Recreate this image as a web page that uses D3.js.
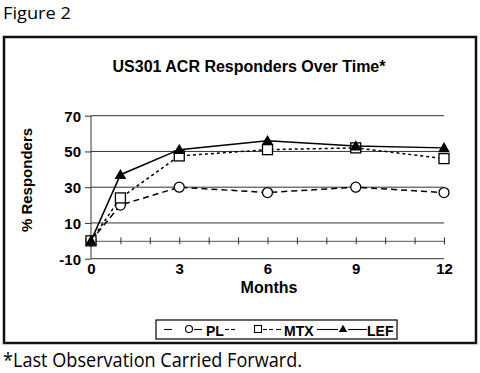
<!DOCTYPE html>
<html><head><meta charset="utf-8">
<script src="https://cdn.jsdelivr.net/npm/d3@7"></script>
<style>body{margin:0;background:#fff;}svg{display:block;}</style>
</head><body>
<svg id="c" width="480" height="373"></svg>
<script>
const months = [0, 1, 3, 6, 9, 12];
const plValues = [0, 20, 30, 27, 30, 27];
const mtxValues = [0, 24, 47.5, 51, 52, 46];
const lefValues = [0, 37, 51, 56, 53, 52];
const yTicks = [-10, 10, 30, 50, 70];
const xTickLabels = [0, 3, 6, 9, 12];
const minorTicks = d3.range(0, 13);
const seriesNames = ["PL", "MTX", "LEF"];

const svg = d3.select("#c");
const x = d3.scaleLinear().domain([0, 12]).range([91, 444]);
const y = d3.scaleLinear().domain([-10, 70]).range([258.7, 115.7]);

svg.append("text").attr("x", 3).attr("y", 19)
  .attr("font-family", "Open Sans").attr("font-size", 17)
  .attr("textLength", 68).attr("lengthAdjust", "spacingAndGlyphs").text("Figure 2");
svg.append("text").attr("x", 3).attr("y", 367)
  .attr("font-family", "Open Sans").attr("font-size", 20)
  .attr("textLength", 299).attr("lengthAdjust", "spacingAndGlyphs").text("*Last Observation Carried Forward.");

svg.append("rect").attr("x", 4).attr("y", 37).attr("width", 472).attr("height", 306)
  .attr("fill", "none").attr("stroke", "#111").attr("stroke-width", 2.5);

svg.append("text").attr("x", 249).attr("y", 72).attr("text-anchor", "middle")
  .attr("font-family", "Liberation Sans").attr("font-weight", "bold").attr("font-size", 16)
  .text("US301 ACR Responders Over Time*");

// gridlines
svg.append("g").selectAll("line").data(yTicks).join("line")
  .attr("x1", x(0)).attr("x2", x(12)).attr("y1", d => y(d)).attr("y2", d => y(d))
  .attr("stroke", "#333").attr("stroke-width", 1);

// y axis
const yAxis = d3.axisLeft(y).tickValues(yTicks).tickSize(6).tickPadding(4).tickFormat(d => String(d));
const gy = svg.append("g").attr("transform", `translate(${x(0)},0)`).call(yAxis);
gy.select(".domain").attr("stroke", "#333").attr("d", `M-0,${y(70)}V${y(-10)}`);
gy.selectAll(".tick line").attr("stroke", "#333");
gy.selectAll("text").attr("font-family", "Liberation Sans").attr("font-weight", "bold")
  .attr("font-size", 15).attr("fill", "#000").attr("dy", "0.36em");

// zero line with minor ticks
const zx = d3.axisBottom(x).tickValues(minorTicks).tickSize(3.5).tickFormat("");
const gz = svg.append("g").attr("transform", `translate(0,${y(0)})`).call(zx);
gz.select(".domain").attr("stroke", "#555");
gz.selectAll(".tick line").attr("y1", -3.5).attr("stroke", "#333");

// x labels
const xa = d3.axisBottom(x).tickValues(xTickLabels).tickSize(0).tickPadding(5);
const gx = svg.append("g").attr("transform", `translate(0,${y(-10)})`).call(xa);
gx.select(".domain").remove();
gx.selectAll("text").attr("font-family", "Liberation Sans").attr("font-weight", "bold")
  .attr("font-size", 15).attr("fill", "#000").attr("dy", "0.71em");

svg.append("text").attr("x", 269).attr("y", 293).attr("text-anchor", "middle")
  .attr("font-family", "Liberation Sans").attr("font-weight", "bold").attr("font-size", 16).text("Months");
svg.append("text").attr("transform", "translate(32,180) rotate(-90)").attr("text-anchor", "middle")
  .attr("font-family", "Liberation Sans").attr("font-weight", "bold").attr("font-size", 15).text("% Responders");

const series = [
  {name: seriesNames[0], vals: plValues, dash: "6,4", marker: "circle"},
  {name: seriesNames[1], vals: mtxValues, dash: "3,3", marker: "square"},
  {name: seriesNames[2], vals: lefValues, dash: null, marker: "triangle"}
];
const line = d3.line().x(d => x(d[0])).y(d => y(d[1]));
function drawMarker(g, type, cx, cy) {
  if (type === "circle") g.append("circle").attr("cx", cx).attr("cy", cy).attr("r", 5)
    .attr("fill", "#fff").attr("stroke", "#000").attr("stroke-width", 1.3);
  else if (type === "square") g.append("rect").attr("x", cx - 5).attr("y", cy - 5).attr("width", 10).attr("height", 10)
    .attr("fill", "#fff").attr("stroke", "#000").attr("stroke-width", 1.3);
  else g.append("path").attr("d", d3.symbol(d3.symbolTriangle, 60)()).attr("transform", `translate(${cx},${cy+1})`)
    .attr("fill", "#000");
}
series.forEach(s => {
  const pts = months.map((m, i) => [m, s.vals[i]]);
  svg.append("path").attr("d", line(pts)).attr("fill", "none").attr("stroke", "#000")
    .attr("stroke-width", 1.5).attr("stroke-dasharray", s.dash);
  const g = svg.append("g");
  pts.forEach(p => drawMarker(g, s.marker, x(p[0]), y(p[1])));
});

// legend
svg.append("rect").attr("x", 156).attr("y", 320).attr("width", 241).attr("height", 19)
  .attr("fill", "#fff").attr("stroke", "#000").attr("stroke-width", 1.2);
const ly = 329.5;
const legItems = [
  {segs: [[164, 172], [194, 202]], mx: 189, tx: 206, dash: null},
  {segs: [[225, 229], [231, 235], [263, 267], [269, 273], [276, 281]], mx: 258, tx: 284, dash: null},
  {segs: [[317, 338], [348, 367]], mx: 343, tx: 367, dash: null}
];
legItems.forEach((it, i) => {
  const g = svg.append("g");
  it.segs.forEach(sg => g.append("line").attr("x1", sg[0]).attr("x2", sg[1]).attr("y1", ly).attr("y2", ly)
    .attr("stroke", "#000").attr("stroke-width", 1.1));
  if (series[i].marker === "circle") g.append("circle").attr("cx", it.mx).attr("cy", ly - 0.5).attr("r", 3.5)
    .attr("fill", "#fff").attr("stroke", "#000").attr("stroke-width", 1.1);
  else if (series[i].marker === "square") g.append("rect").attr("x", it.mx - 3.5).attr("y", ly - 4).attr("width", 7).attr("height", 7)
    .attr("fill", "#fff").attr("stroke", "#000").attr("stroke-width", 1.1);
  else g.append("path").attr("d", d3.symbol(d3.symbolTriangle, 30)()).attr("transform", `translate(${it.mx},${ly})`).attr("fill", "#000");
  g.append("text").attr("x", it.tx).attr("y", ly + 6).attr("font-family", "Liberation Sans")
    .attr("font-weight", "bold").attr("font-size", 14).attr("fill", "#000").text(series[i].name);
});
</script>
</body></html>
